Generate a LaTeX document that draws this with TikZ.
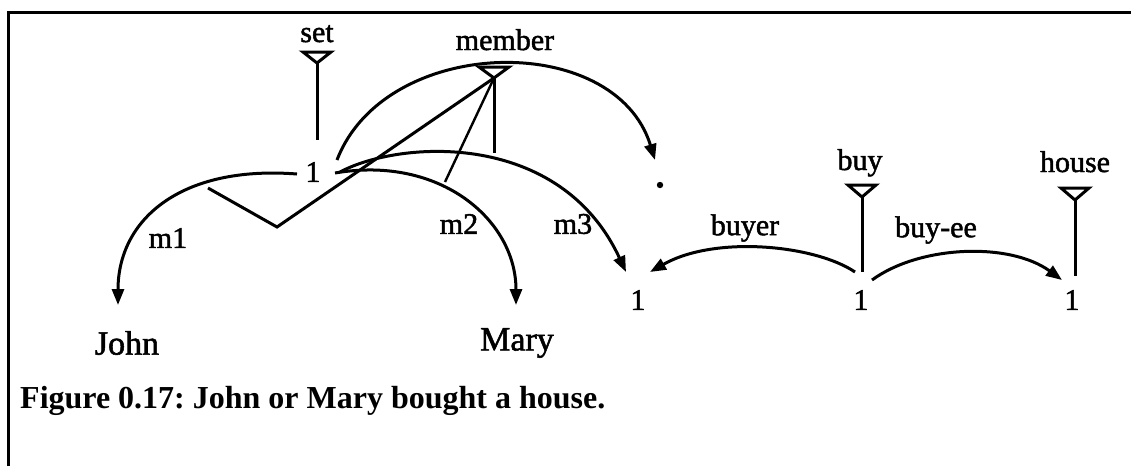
\documentclass[tikz,border=0pt]{standalone}
\usepackage{fontspec}
\setmainfont{Liberation Serif}
\newfontfamily\lblfont[FakeBold=1.6]{Liberation Serif}
\usetikzlibrary{arrows.meta}
\frenchspacing
\tikzset{
  lbl/.style={font=\lblfont\fontsize{30}{30}\selectfont, inner sep=0pt},
  word/.style={font=\lblfont\fontsize{34}{34}\selectfont, inner sep=0pt},
  ln/.style={line width=3pt},
  thin/.style={line width=2.4pt},
  arr/.style={line width=3pt, -{Triangle[length=16pt,width=12pt]}},
  tri/.style={line width=3pt, line join=miter, fill=white},
}
\begin{document}
\begin{tikzpicture}[x=1pt,y=-1pt]
\useasboundingbox (0,0) rectangle (1131,466);
\draw[line width=3pt] (8,466) -- (8,12) -- (1131,12);

% set concept
\node[lbl, anchor=base] (setl) at (317,42) {set};
\coordinate (settop) at (317,52);
\coordinate (setapex) at (317,63);
\coordinate (setbot) at (317,140);
\node[lbl] (set1) at (313,172) {1};

% member
\node[lbl, anchor=base] (meml) at (505,50) {member};
\coordinate (memtop) at (494,67);
\coordinate (memapex) at (494,78);
\coordinate (membot) at (494,153);

% dot
\coordinate (dot) at (660,185);
\fill (dot) circle (3.2);

% nodes
\node[word] (john) at (127,343) {John};
\node[word] (mary) at (517,343) {Mary};
\node[lbl] (one1) at (638,300) {1};
\node[lbl] (one2) at (861,300) {1};
\node[lbl] (one3) at (1072,300) {1};

\node[lbl, anchor=base] (buyl) at (860,170) {buy};
\coordinate (buytop) at (862,185);
\coordinate (buyapex) at (862,197);
\coordinate (buybot) at (862,272);

\node[lbl, anchor=base] (housel) at (1075,172) {house};
\coordinate (housetop) at (1075,188);
\coordinate (houseapex) at (1075,200);
\coordinate (housebot) at (1075,276);

% vertical lines and triangles
\draw[ln] (setapex) -- (setbot);
\draw[tri] (settop) ++(-14,0) -- ++(28,0) -- ++(-14,11) -- cycle;
\draw[ln] (memapex) -- (membot);
\draw[tri] (memtop) ++(-15,0) -- ++(30,0) -- ++(-15,11) -- cycle;
\draw[ln] (buyapex) -- (buybot);
\draw[tri] (buytop) ++(-14,0) -- ++(28,0) -- ++(-14,12) -- cycle;
\draw[ln] (houseapex) -- (housebot);
\draw[tri] (housetop) ++(-14,0) -- ++(28,0) -- ++(-14,12) -- cycle;

% arcs
\coordinate (sdS) at (337,160);
\coordinate (sdT) at (655,160);
\draw[arr] (sdS) .. controls (385,35) and (615,30) .. (sdT);

\coordinate (m1S) at (297,174);
\coordinate (m1T) at (118,305);
\draw[arr] (m1S) .. controls (180,165) and (118,220) .. (m1T);
\node[lbl] (m1l) at (168,238) {m1};

\coordinate (m2S) at (335,173);
\coordinate (m2T) at (516,305);
\draw[arr] (m2S) .. controls (440,155) and (516,220) .. (m2T);
\node[lbl] (m2l) at (459,224) {m2};

\coordinate (m3S) at (340,172);
\coordinate (m3T) at (626,272);
\draw[arr] (m3S) .. controls (400,140) and (560,130) .. (m3T);
\node[lbl] (m3l) at (573,224) {m3};

% member links
\coordinate (z1) at (208,188);
\coordinate (z2) at (277,227);
\coordinate (m2hit) at (445,182);
\draw[ln, line join=miter] (z1) -- (z2) -- (memapex);
\draw[thin] (memapex) -- (m2hit);

% buy relations
\coordinate (byS) at (855,272);
\coordinate (byT) at (650,272);
\draw[arr] (byS) .. controls (815,245) and (715,235) .. (byT);
\node[lbl] (buyerl) at (745,228) {buyer};

\coordinate (beS) at (872,280);
\coordinate (beT) at (1062,280);
\draw[arr] (beS) .. controls (920,245) and (1010,242) .. (beT);
\node[lbl] (buyeel) at (936,230) {buy-ee};

% caption
\node[anchor=base west, inner sep=0pt, font=\bfseries\fontsize{32}{32}\selectfont] (cap) at (20,408) {Figure 0.17: John or Mary bought a house.};
\end{tikzpicture}
\end{document}
